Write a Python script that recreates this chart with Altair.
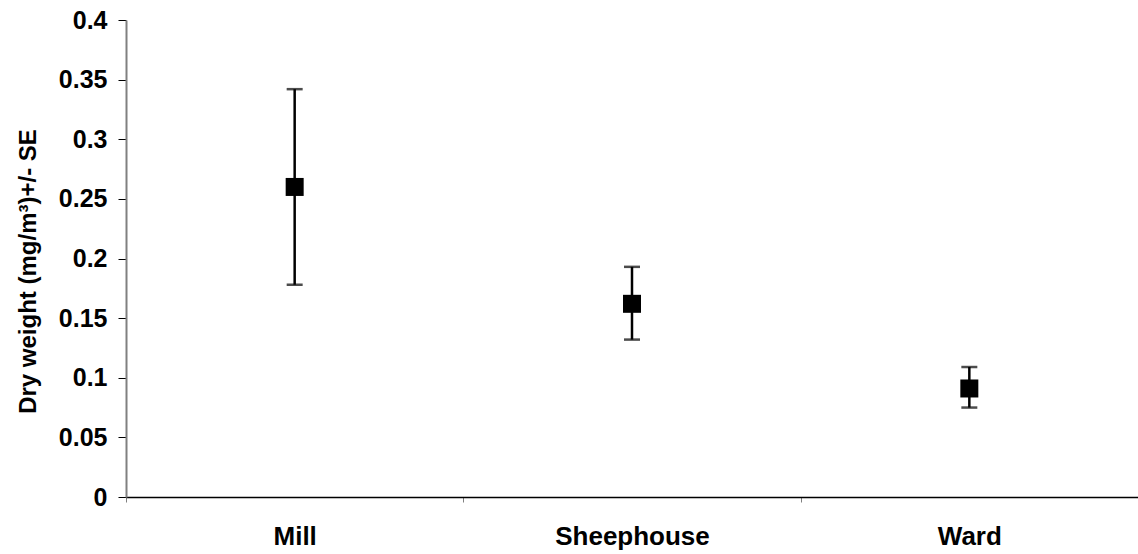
import altair as alt
import pandas as pd

sites = ["Mill", "Sheephouse", "Ward"]
means = [0.260, 0.162, 0.091]
upper = [0.342, 0.193, 0.109]
lower = [0.178, 0.132, 0.075]
y_ticks = [0, 0.05, 0.1, 0.15, 0.2, 0.25, 0.3, 0.35, 0.4]

df = pd.DataFrame({"site": sites, "mean": means, "upper": upper, "lower": lower})

FONT = "Liberation Sans"

x_enc = alt.X(
    "site:N",
    sort=sites,
    scale=alt.Scale(paddingInner=0, paddingOuter=0),
    axis=alt.Axis(
        title=None,
        labelAngle=0,
        tickBand="extent",
        labelFont=FONT,
        labelFontSize=26,
        labelFontWeight="bold",
        labelColor="black",
        labelPadding=21,
        tickColor="#808080",
        tickSize=5,
        domainColor="black",
        domainWidth=1.5,
        grid=False,
    ),
)

y_scale = alt.Scale(domain=[0, 0.4], nice=False, zero=True)

base = alt.Chart(df)

rules = base.mark_rule(color="black", strokeWidth=2.5).encode(
    x=x_enc,
    y=alt.Y(
        "lower:Q",
        scale=y_scale,
        axis=alt.Axis(
            title="Dry weight (mg/m³)+/- SE",
            titleFont=FONT,
            titleFontSize=24,
            titleFontWeight="bold",
            titleColor="black",
            titleX=-98,
            titleY=251,
            titleAngle=270,
            titleAlign="center",
            titleBaseline="middle",
            values=y_ticks,
            format="~g",
            labelFont=FONT,
            labelFontSize=25,
            labelFontWeight="bold",
            labelColor="black",
            labelPadding=11,
            tickColor="black",
            tickSize=8,
            domainColor="#808080",
            domainWidth=2,
            grid=False,
        ),
    ),
    y2="upper:Q",
)

caps_hi = base.mark_tick(color="black", size=16, thickness=2.5).encode(
    x=alt.X("site:N", sort=sites), y=alt.Y("upper:Q", scale=y_scale)
)
caps_lo = base.mark_tick(color="black", size=16, thickness=2.5).encode(
    x=alt.X("site:N", sort=sites), y=alt.Y("lower:Q", scale=y_scale)
)
points = base.mark_square(size=324, color="black", opacity=1, filled=True).encode(
    x=alt.X("site:N", sort=sites), y=alt.Y("mean:Q", scale=y_scale)
)

chart = (
    alt.layer(rules, caps_hi, caps_lo, points)
    .properties(
        width=1012,
        height=477,
        autosize=alt.AutoSizeParams(type="none"),
        padding={"left": 126, "top": 20, "right": 0, "bottom": 57},
        background="white",
    )
    .configure_view(stroke=None)
)

chart.save("out.html", embed_options={"renderer": "svg", "actions": False})
